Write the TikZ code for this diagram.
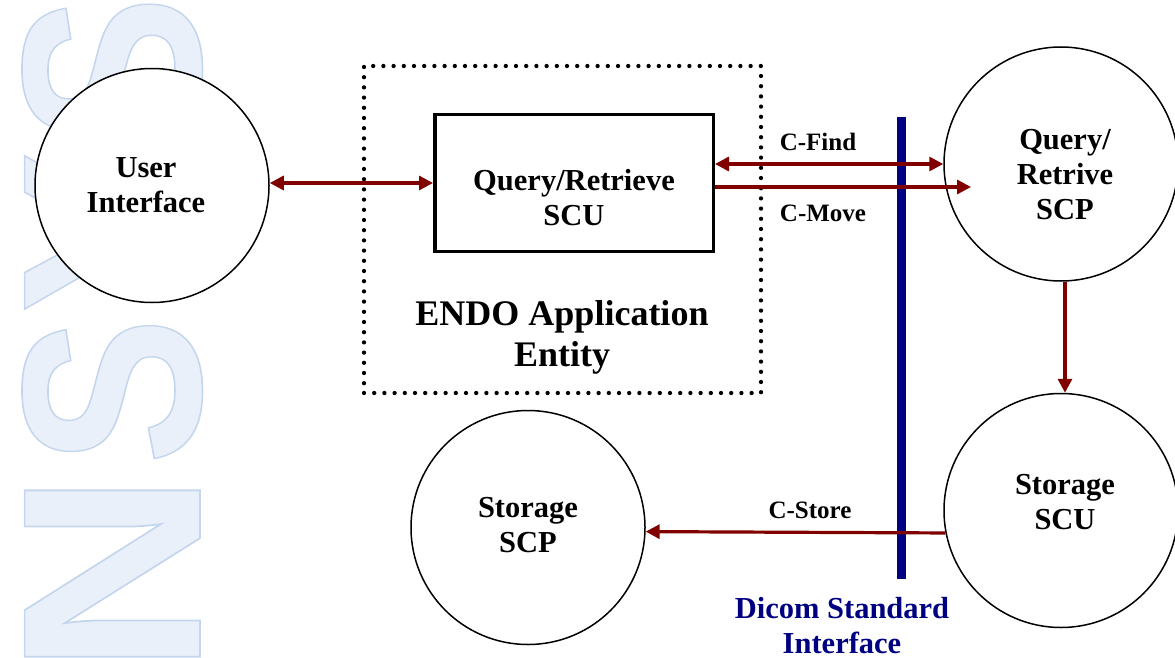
\documentclass[tikz,border=0pt]{standalone}
\usepackage{fontspec}
\setmainfont{Liberation Serif}
\newfontfamily\wmfont{Liberation Sans}
\usetikzlibrary{arrows.meta}
\definecolor{arrred}{RGB}{128,0,0}
\definecolor{navyblue}{RGB}{0,0,128}
\definecolor{wmfill}{RGB}{234,240,249}
\newcommand\wmletter[1]{\makebox[0pt]{\special{pdf:literal 2 Tr 1.6 w 0.77 0.84 0.93 RG}#1\special{pdf:literal 0 Tr}}}
\tikzset{
  circ/.style={circle,draw=black,line width=1.5pt,fill=white,minimum size=234pt,inner sep=0pt},
  lbl/.style={font=\fontsize{30.5}{35}\selectfont\bfseries,align=center,inner sep=0pt},
  small/.style={font=\fontsize{25}{30}\selectfont\bfseries,inner sep=0pt},
  big/.style={font=\fontsize{36}{41}\selectfont\bfseries,align=center,inner sep=0pt},
  scubox/.style={rectangle,draw=black,line width=3.5pt,minimum width=278.5pt,minimum height=136.5pt,inner sep=0pt},
  dotbox/.style={rectangle,draw=black,line width=4.3pt,dash pattern=on 0pt off 10.2pt,line cap=round,minimum width=397pt,minimum height=327pt,inner sep=0pt},
  arr/.style={draw=arrred,line width=3.2pt,-{Triangle[length=14pt,width=14pt]}},
  biarr/.style={draw=arrred,line width=3.2pt,{Triangle[length=14pt,width=14pt]}-{Triangle[length=14pt,width=14pt]}},
  dicom/.style={draw=navyblue,line width=9pt},
  wm/.style={font=\wmfont\fontsize{255}{255}\selectfont\bfseries,text=wmfill,rotate=90,anchor=base,inner sep=0pt,text height=180pt,text depth=0pt}
}
\begin{document}
\begin{tikzpicture}[x=1pt,y=-1pt]
\useasboundingbox (0,0) rectangle (1175,658);
% watermark
\node[wm] (w1) at (200,69.5) {\wmletter{\scalebox{0.87}[1]{S}}};
\node[wm] (w2) at (200,232.5) {\wmletter{\scalebox{0.95}[1]{Y}}};
\node[wm] (w3) at (200,391) {\wmletter{\scalebox{0.87}[1]{S}}};
\node[wm] (w4) at (200,573.5) {\wmletter{\scalebox{1.11}[1]{N}}};
% application entity
\node[dotbox] (ae) at (562.5,229.5) {};
\node[big] (aet) at (562,337.5) {ENDO Application\\Entity};
\node[scubox] (scu) at (574,183) {};
\node[lbl] (scut) at (574,197.5) {Query/Retrieve\\SCU};
% circles
\node[circ] (ui) at (152,185.5) {};
\node[lbl] (uit) at (146,185) {User\\Interface};
\node[circ] (scp) at (1061,164) {};
\node[lbl] (scpt) at (1065,175) {Query/\\Retrive\\SCP};
\node[circ] (ssu) at (1061,510.5) {};
\node[lbl] (ssut) at (1065,502.5) {Storage\\SCU};
\node[circ] (ssp) at (528,527.5) {};
\node[lbl] (sspt) at (528,525.5) {Storage\\SCP};
% dicom interface line
\coordinate (dt) at (901.5,117);
\coordinate (db) at (901.5,579);
\draw[dicom] (dt) -- (db);
\node[lbl,text=navyblue] (dit) at (842,625.5) {Dicom Standard\\Interface};
% connectors
\draw[biarr] (ui.east |- scu.west) -- (scu.west);
\draw[biarr] (scu.east |- scp.center) -- (scp.west);
\coordinate (mv) at (971,187);
\draw[arr] (scu.east |- mv) -- (mv);
\draw[arr] ([xshift=4pt]scp.south) -- ([xshift=4pt]ssu.north);
\draw[arr] (ssu.191) -- (ssp.-2.7);
% labels
\node[small] (cf) at (818,142) {C-Find};
\node[small] (cm) at (823,213) {C-Move};
\node[small] (cst) at (810,510) {C-Store};
\end{tikzpicture}
\end{document}
